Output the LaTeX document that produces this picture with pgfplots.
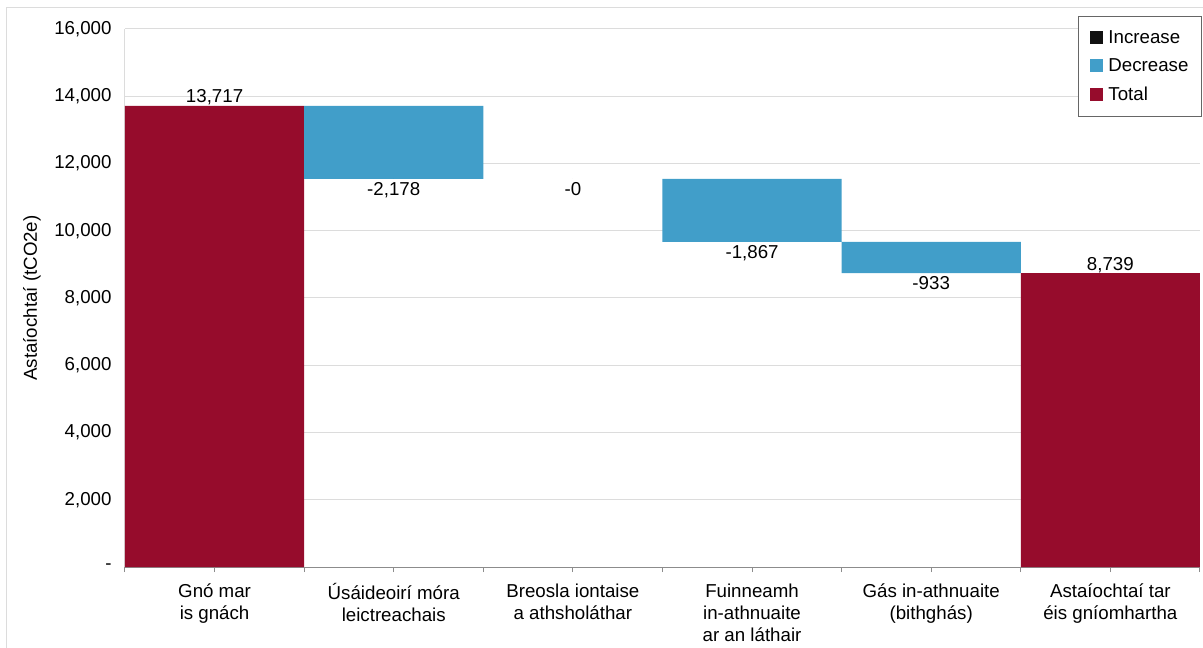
\documentclass[border=0pt]{standalone}
\usepackage{pgfplots}
\pgfplotsset{compat=1.18}
\usepackage{fontspec}
\setmainfont{Liberation Sans}
\definecolor{totred}{HTML}{960C2C}
\definecolor{decblue}{HTML}{419EC9}
\definecolor{incblack}{HTML}{111111}
\definecolor{gridgray}{HTML}{DCDCDC}
\definecolor{axisgray}{HTML}{8C8C8C}
\newcommand{\cf}{\fontsize{18.7bp}{22bp}\selectfont}
\pgfplotsset{
  wfgeom/.style={
    at={(0,0)}, anchor=south west,
    scale only axis, width=1075bp, height=538bp,
    xmin=-0.5, xmax=5.5, ymin=0, ymax=16000,
  }
}
\begin{document}
\begin{tikzpicture}
\useasboundingbox (-125bp,-81bp) rectangle (1078bp,567bp);
\draw[gridgray, line width=1bp] (-118bp,-90bp) -- (-118bp,559bp) -- (1090bp,559bp);
\begin{axis}[
  wfgeom,
  ybar stacked, bar width=1,
  axis x line*=bottom, axis y line*=left,
  axis line style={-},
  x axis line style={axisgray, line width=1bp},
  y axis line style={gridgray, line width=1bp},
  ymajorgrids, grid style={gridgray, line width=1bp},
  scaled y ticks=false,
  ytick={0,2000,...,16000},
  yticklabels={-,{2,000},{4,000},{6,000},{8,000},{10,000},{12,000},{14,000},{16,000}},
  ytick style={draw=none},
  yticklabel style={font=\cf, xshift=-5bp},
  xtick={0,...,5},
  minor xtick={-0.5,0.5,...,5.5},
  tick align=outside,
  major tick length=5bp, minor tick length=5bp,
  xtick style={axisgray, line width=1bp},
  minor tick style={axisgray, line width=1bp},
  xticklabels={{Gnó mar\\is gnách},{Úsáideoirí móra\\leictreachais},{Breosla iontaise\\a athsholáthar},{Fuinneamh\\in-athnuaite\\ar an láthair},{Gás in-athnuaite\\(bithghás)},{Astaíochtaí tar\\éis gníomhartha}},
  xticklabel style={font=\cf, align=center, yshift=-8bp},
  ylabel={Astaíochtaí (tCO2e)},
  ylabel style={font=\cf, at={(axis description cs:-0.0865,0.5)}, anchor=center},
  legend style={at={(1.0019,1.0242)}, anchor=north east, draw=black!60, line width=1bp,
    font=\cf, row sep=10bp, inner xsep=11bp, inner ysep=12bp, cells={anchor=west}},
]
\addplot[draw=none, fill=none, forget plot]
  coordinates {(0,0) (1,11539) (2,11539) (3,9672) (4,8739) (5,0)};
\addplot[draw=none, fill=decblue, forget plot]
  coordinates {(0,0) (1,2178) (2,0) (3,1867) (4,933) (5,0)};
\addplot[draw=none, fill=totred, forget plot]
  coordinates {(0,13717) (1,0) (2,0) (3,0) (4,0) (5,8739)};
\addlegendimage{legend image code/.code={\fill[incblack] (0bp,-6bp) rectangle (12bp,6bp); \path[draw=none] (0bp,0bp) -- (16bp,0bp);}}
\addlegendentry{Increase}
\addlegendimage{legend image code/.code={\fill[decblue] (0bp,-6bp) rectangle (12bp,6bp); \path[draw=none] (0bp,0bp) -- (16bp,0bp);}}
\addlegendentry{Decrease}
\addlegendimage{legend image code/.code={\fill[totred] (0bp,-6bp) rectangle (12bp,6bp); \path[draw=none] (0bp,0bp) -- (16bp,0bp);}}
\addlegendentry{Total}
\end{axis}
\begin{axis}[
  wfgeom, hide axis,
  point meta=explicit symbolic,
  nodes near coords style={font=\cf},
]
\addplot[only marks, mark=*, mark size=0pt, mark options={draw=none, fill=none},
  nodes near coords, every node near coord/.append style={anchor=north, yshift=0bp}]
  coordinates {(1,11539) [{-2,178}] (2,11539) [{-0}] (3,9672) [{-1,867}] (4,8739) [{-933}]};
\addplot[only marks, mark=*, mark size=0pt, mark options={draw=none, fill=none},
  nodes near coords, every node near coord/.append style={anchor=south, yshift=-3bp}]
  coordinates {(0,13717) [{13,717}] (5,8739) [{8,739}]};
\end{axis}
\end{tikzpicture}
\end{document}
